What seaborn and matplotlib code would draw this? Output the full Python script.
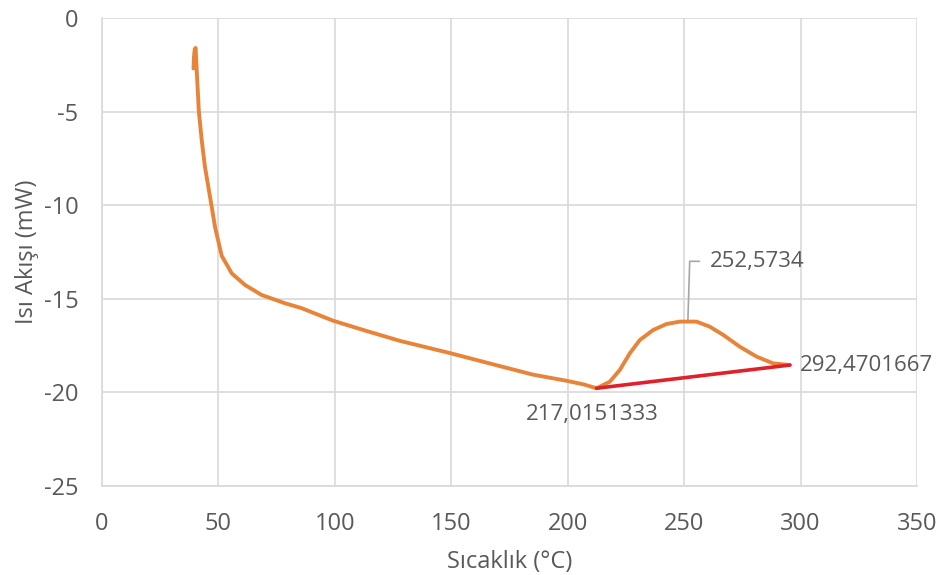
import matplotlib
matplotlib.use("Agg")
import matplotlib.pyplot as plt
import seaborn as sns
import pandas as pd

# DSC curve (temperature °C, heat flow mW)
temperature = [39.3, 39.5, 39.8, 40.2, 40.6, 41.1, 41.6, 42.8, 44.2, 45.9, 47.0, 48.6,
               51.4, 55.7, 61.4, 68.6, 78.6, 85.7, 99.2, 113.6, 128.0, 149.4, 171.0,
               185.0, 199.5, 207.0, 212.4, 218.1, 222.4, 226.7, 231.0, 236.7, 242.4,
               248.2, 255.3, 261.0, 266.8, 273.9, 281.1, 288.2, 295.4]
heat_flow = [-2.7, -2.1, -1.7, -1.6, -2.6, -3.8, -5.0, -6.5, -7.94, -9.19, -10.0, -11.2,
             -12.7, -13.64, -14.26, -14.8, -15.24, -15.5, -16.17, -16.72, -17.25, -17.9,
             -18.6, -19.05, -19.38, -19.58, -19.78, -19.43, -18.8, -17.91, -17.2, -16.67,
             -16.35, -16.22, -16.22, -16.49, -16.93, -17.56, -18.09, -18.45, -18.54]

# baseline endpoints
baseline_x = [212.4, 295.4]
baseline_y = [-19.78, -18.54]

# annotations
label_min = "217,0151333"
label_peak = "252,5734"
label_end = "292,4701667"
peak_point = (251.6, -16.22)

x_ticks = [0, 50, 100, 150, 200, 250, 300, 350]
y_ticks = [0, -5, -10, -15, -20, -25]

sns.set_theme(style="white")
plt.rcParams['font.family'] = ['Open Sans', 'DejaVu Sans']
plt.rcParams['axes.unicode_minus'] = False

text_color = "#595959"
grid_color = "#d9d9d9"

fig = plt.figure(figsize=(9.4, 5.75), dpi=100)
ax = fig.add_axes([0.1085, 0.1548, 0.867, 0.814])

df = pd.DataFrame({"T": temperature, "Q": heat_flow})
sns.lineplot(data=df, x="T", y="Q", ax=ax, color="#E8843A", linewidth=2.8, sort=False,
             solid_capstyle="round", solid_joinstyle="round", zorder=3)
bdf = pd.DataFrame({"T": baseline_x, "Q": baseline_y})
sns.lineplot(data=bdf, x="T", y="Q", ax=ax, color="#E0202A", linewidth=2.6, sort=False, zorder=4)

ax.set_xlim(0, 350)
ax.set_ylim(-25, 0)
ax.set_xticks(x_ticks)
ax.set_yticks(y_ticks)
ax.grid(True, color=grid_color, linewidth=1.2)
ax.set_axisbelow(True)
for name, sp in ax.spines.items():
    sp.set_visible(name in ("left", "bottom"))
    sp.set_color(grid_color)
    sp.set_linewidth(1.2)
ax.tick_params(axis="x", length=0, labelsize=17, labelcolor=text_color, pad=19)
ax.tick_params(axis="y", length=0, labelsize=17, labelcolor=text_color, pad=17)

ax.set_xlabel("Sıcaklık (°C)", fontsize=17, color=text_color, labelpad=10)
ax.set_ylabel("Isı Akışı (mW)", fontsize=17, color=text_color, labelpad=3)

# annotations
ax.text(210.5, -20.6, label_min, fontsize=16, color=text_color, ha="center", va="top")
ax.text(299.5, -18.54, label_end, fontsize=16, color=text_color, ha="left", va="center")
ax.plot([peak_point[0], peak_point[0] + 0.8, peak_point[0] + 5.0],
        [peak_point[1], -13.0, -13.0], color="#a6a6a6", linewidth=1.2, zorder=2)
ax.text(peak_point[0] + 9.5, -13.0, label_peak, fontsize=16, color=text_color, ha="left", va="center")

fig.savefig("out.png", dpi=100)
